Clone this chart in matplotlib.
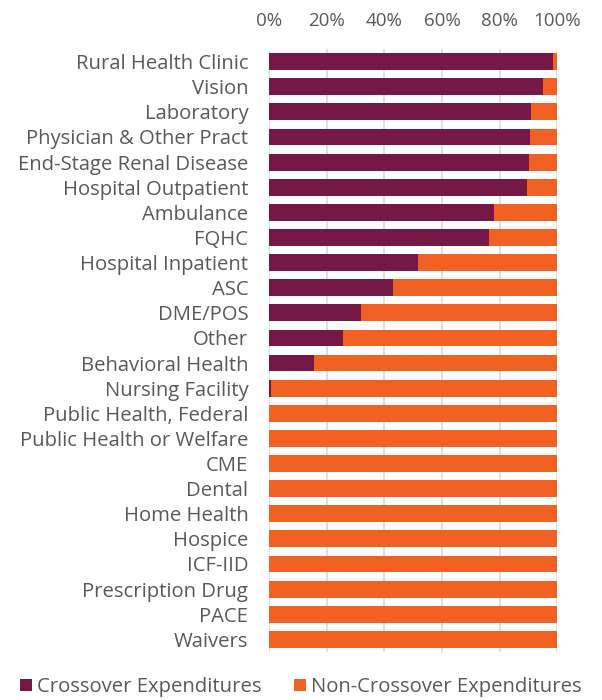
import numpy as np
import matplotlib.pyplot as plt
from matplotlib.ticker import PercentFormatter

# categories (top to bottom)
categories = ['Rural Health Clinic', 'Vision', 'Laboratory', 'Physician & Other Pract',
              'End-Stage Renal Disease', 'Hospital Outpatient', 'Ambulance', 'FQHC',
              'Hospital Inpatient', 'ASC', 'DME/POS', 'Other', 'Behavioral Health',
              'Nursing Facility', 'Public Health, Federal', 'Public Health or Welfare',
              'CME', 'Dental', 'Home Health', 'Hospice', 'ICF-IID', 'Prescription Drug',
              'PACE', 'Waivers']
# share of crossover expenditures (%)
crossover = [98.4, 94.9, 90.9, 90.5, 90.1, 89.6, 78.0, 76.4, 51.7, 42.9, 31.8, 25.8,
             15.4, 0.5, 0, 0, 0, 0, 0, 0, 0, 0, 0, 0]
non_crossover = [100 - v for v in crossover]

c_cross = '#741846'
c_non = '#f26124'
txt = '#595959'

plt.rcParams['font.family'] = ['Open Sans', 'DejaVu Sans']

fig = plt.figure(figsize=(6.02, 7), dpi=100)
ax = fig.add_axes([0.447, 0.0687, 0.479, 0.8612])

y = np.arange(len(categories))
ax.barh(y, crossover, height=0.67, color=c_cross, label='Crossover Expenditures', zorder=3)
ax.barh(y, non_crossover, left=crossover, height=0.67, color=c_non,
        label='Non-Crossover Expenditures', zorder=3)

ax.set_xlim(0, 100)
ax.set_ylim(len(categories) - 0.5, -0.5)
ax.set_yticks(y)
ax.set_yticklabels(categories, fontsize=14.6)
ax.set_xticks(np.arange(0, 101, 20))
ax.xaxis.set_major_formatter(PercentFormatter(decimals=0))
ax.xaxis.tick_top()
ax.tick_params(axis='both', length=0, colors=txt)
ax.tick_params(axis='x', pad=14, labelsize=13.5)
ax.tick_params(axis='y', pad=15)
ax.grid(axis='x', color='#d9d9d9', linewidth=1.2, zorder=0)
for s in ax.spines.values():
    s.set_visible(False)

fig.legend(loc='lower center', bbox_to_anchor=(0.5, -0.022), ncol=2, frameon=False,
           fontsize=14.6, labelcolor=txt, handlelength=0.6, handleheight=0.6,
           handletextpad=0.25, columnspacing=1.6)

plt.savefig('out.png', dpi=100)
